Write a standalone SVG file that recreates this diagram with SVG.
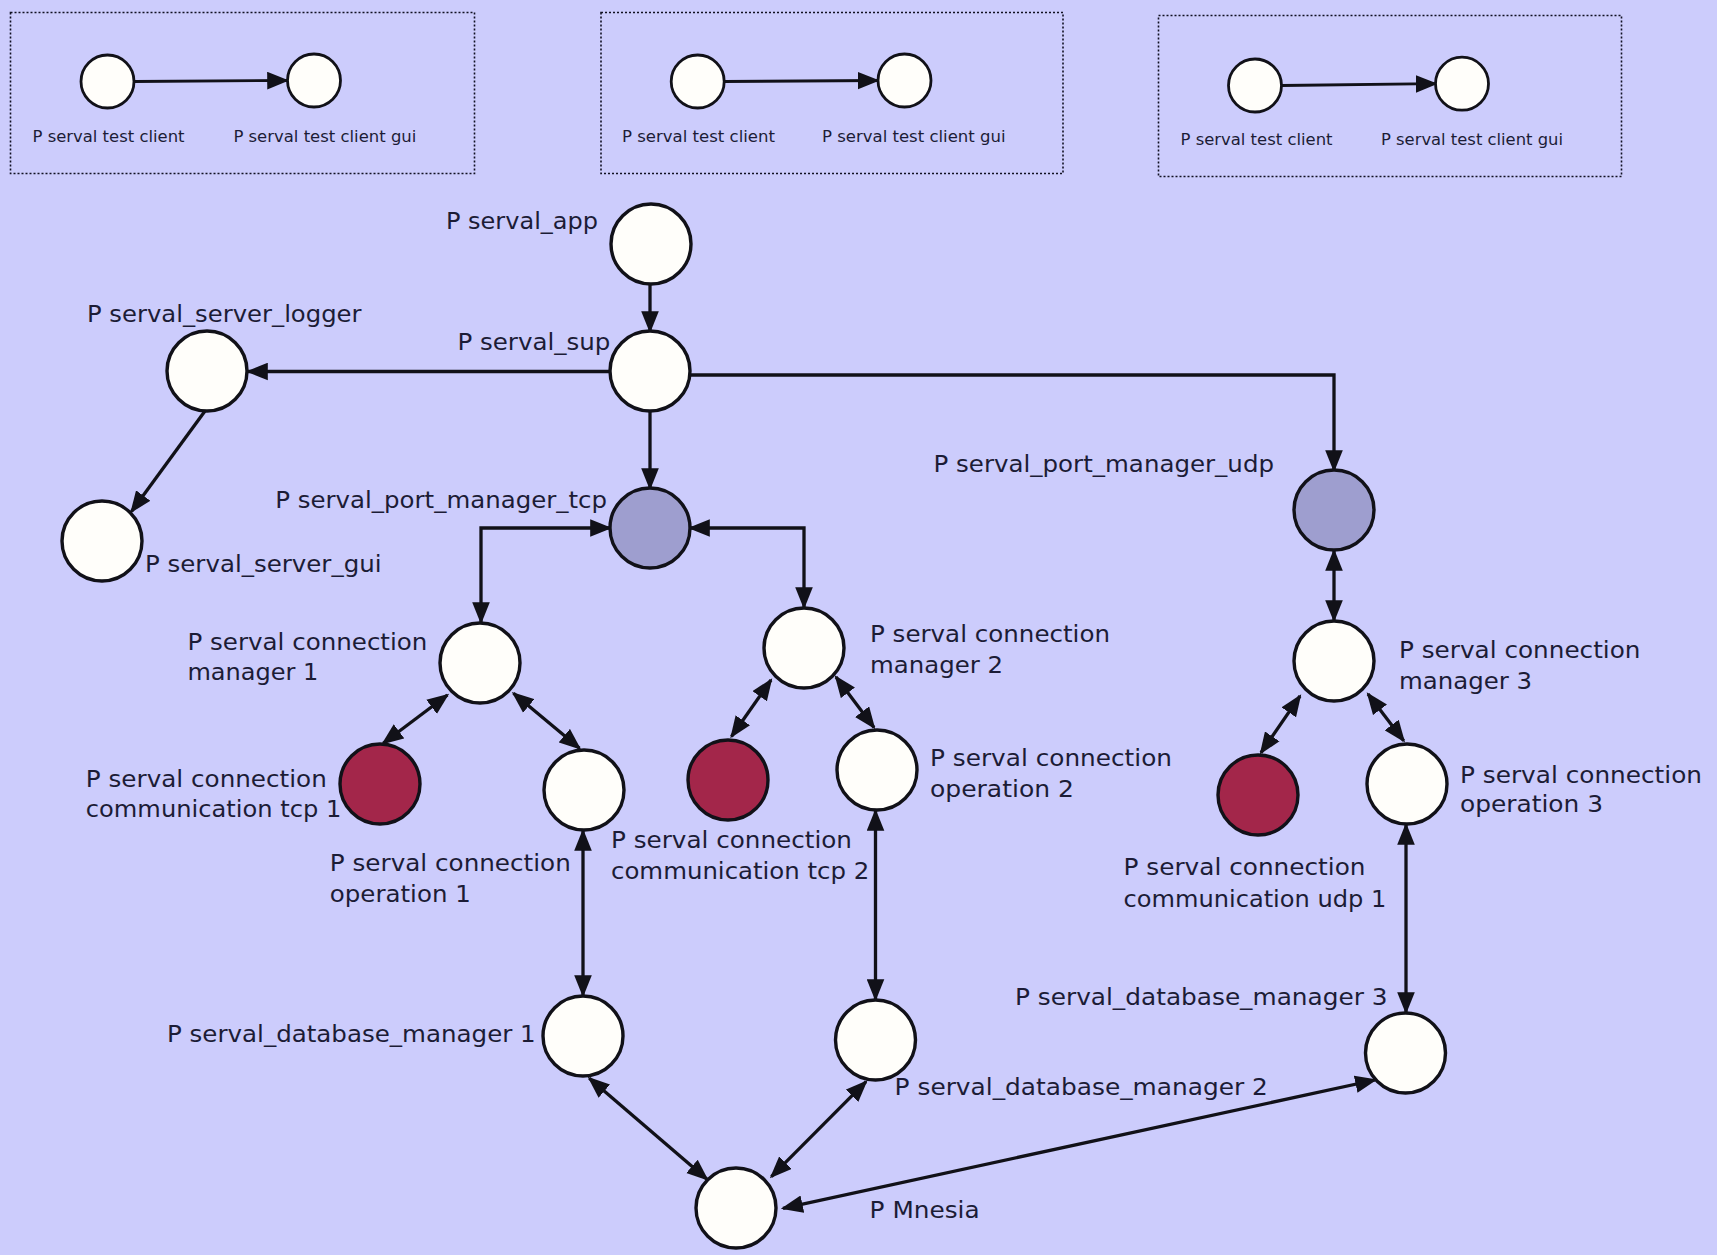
<svg xmlns="http://www.w3.org/2000/svg" width="1717" height="1255" viewBox="0 0 1717 1255">
<style>
.bg{fill:#ccccfc}
.box{fill:none;stroke:#111122;stroke-width:1.6;stroke-dasharray:2 2}
.n{fill:#fffefa;stroke:#111118;stroke-width:3.4}
.ns{fill:#fffefa;stroke:#111118;stroke-width:2.8}
.g{fill:#9e9ecf}
.r{fill:#a3264a}
.t{font-family:"DejaVu Sans","Liberation Sans",sans-serif;font-size:23.5px;fill:#1c1c36}
.s{font-family:"DejaVu Sans","Liberation Sans",sans-serif;font-size:16.5px;fill:#1c1c36}
.c{fill:none;stroke:#111118;stroke-width:3.3}
.cs{fill:none;stroke:#111118;stroke-width:2.8}
</style>
<defs>
<marker id="a" markerUnits="userSpaceOnUse" markerWidth="22" markerHeight="18" viewBox="0 0 20 16" refX="18" refY="8" orient="auto-start-reverse">
<path d="M0,0 L20,8 L0,16 z" fill="#111118"/>
</marker>
<marker id="as" markerUnits="userSpaceOnUse" markerWidth="22" markerHeight="18" viewBox="0 0 20 16" refX="18" refY="8" orient="auto-start-reverse">
<path d="M0,0 L20,8 L0,16 z" fill="#111118"/>
</marker>
</defs>
<rect class="bg" x="0" y="0" width="1717" height="1255"/>

<g id="box1">
<rect class="box" x="10.5" y="12.5" width="464" height="161"/>
</g>
<g id="box2">
<rect class="box" x="601" y="12.5" width="462" height="161"/>
</g>
<g id="box3">
<rect class="box" x="1158.5" y="15.5" width="463" height="161"/>
</g>

<g id="connectors">
<line class="cs" x1="134.5" y1="81.5" x2="287" y2="80.5" marker-end="url(#as)"/>
<line class="cs" x1="724.5" y1="81.5" x2="877.5" y2="80.5" marker-end="url(#as)"/>
<line class="cs" x1="1282" y1="85.5" x2="1435.5" y2="83.7" marker-end="url(#as)"/>

<line class="c" x1="650" y1="284" x2="650" y2="331" marker-end="url(#a)"/>
<line class="c" x1="610" y1="371.5" x2="248" y2="371.5" marker-end="url(#a)"/>
<line class="c" x1="650" y1="411" x2="650" y2="488" marker-end="url(#a)"/>
<line class="c" x1="205" y1="411" x2="131.5" y2="511.5" marker-end="url(#a)"/>
<path class="c" d="M690,375 H1334 V470" marker-end="url(#a)"/>
<path class="c" d="M610,528 H481 V622" marker-start="url(#a)" marker-end="url(#a)"/>
<path class="c" d="M690,528 H804 V607" marker-start="url(#a)" marker-end="url(#a)"/>
<line class="c" x1="1334" y1="551" x2="1334" y2="620" marker-start="url(#a)" marker-end="url(#a)"/>
<line class="c" x1="447.4" y1="695" x2="383.2" y2="743.3" marker-start="url(#a)" marker-end="url(#a)"/>
<line class="c" x1="513.5" y1="693.3" x2="579.5" y2="748.3" marker-start="url(#a)" marker-end="url(#a)"/>
<line class="c" x1="771" y1="680" x2="731.5" y2="736.5" marker-start="url(#a)" marker-end="url(#a)"/>
<line class="c" x1="836" y1="677" x2="874" y2="727.5" marker-start="url(#a)" marker-end="url(#a)"/>
<line class="c" x1="1300" y1="696" x2="1261" y2="752.7" marker-start="url(#a)" marker-end="url(#a)"/>
<line class="c" x1="1368" y1="694" x2="1403.7" y2="740.7" marker-start="url(#a)" marker-end="url(#a)"/>
<line class="c" x1="583" y1="831" x2="583" y2="995" marker-start="url(#a)" marker-end="url(#a)"/>
<line class="c" x1="875.5" y1="811" x2="875.5" y2="999" marker-start="url(#a)" marker-end="url(#a)"/>
<line class="c" x1="1406" y1="825" x2="1406" y2="1012" marker-start="url(#a)" marker-end="url(#a)"/>
<line class="c" x1="589.3" y1="1078.3" x2="707" y2="1179.3" marker-start="url(#a)" marker-end="url(#a)"/>
<line class="c" x1="866" y1="1081.7" x2="771.4" y2="1176.7" marker-start="url(#a)" marker-end="url(#a)"/>
<line class="c" x1="1375" y1="1080" x2="783" y2="1208.3" marker-start="url(#a)" marker-end="url(#a)"/>
</g>

<g id="b1-client"><circle class="ns" cx="107.5" cy="81.5" r="26.5"/><text class="s" x="32.5" y="141.7" textLength="152" lengthAdjust="spacingAndGlyphs">P serval test client</text></g>
<g id="b1-gui"><circle class="ns" cx="314" cy="80.5" r="26.5"/><text class="s" x="233.4" y="141.7" textLength="183" lengthAdjust="spacingAndGlyphs">P serval test client gui</text></g>
<g id="b2-client"><circle class="ns" cx="697.7" cy="81.5" r="26.5"/><text class="s" x="622" y="141.7" textLength="153" lengthAdjust="spacingAndGlyphs">P serval test client</text></g>
<g id="b2-gui"><circle class="ns" cx="904.5" cy="80.5" r="26.5"/><text class="s" x="822" y="141.7" textLength="183.6" lengthAdjust="spacingAndGlyphs">P serval test client gui</text></g>
<g id="b3-client"><circle class="ns" cx="1255" cy="85.5" r="26.5"/><text class="s" x="1180.5" y="145" textLength="152" lengthAdjust="spacingAndGlyphs">P serval test client</text></g>
<g id="b3-gui"><circle class="ns" cx="1462" cy="83.7" r="26.5"/><text class="s" x="1381" y="145" textLength="182" lengthAdjust="spacingAndGlyphs">P serval test client gui</text></g>

<g id="serval_app"><circle class="n" cx="651" cy="244" r="40"/><text class="t" x="446" y="228.5" textLength="152" lengthAdjust="spacingAndGlyphs">P serval_app</text></g>
<g id="serval_sup"><circle class="n" cx="650" cy="371" r="40"/><text class="t" x="457.4" y="350" textLength="153" lengthAdjust="spacingAndGlyphs">P serval_sup</text></g>
<g id="serval_server_logger"><circle class="n" cx="207" cy="371" r="40"/><text class="t" x="87" y="321.7" textLength="274.5" lengthAdjust="spacingAndGlyphs">P serval_server_logger</text></g>
<g id="serval_server_gui"><circle class="n" cx="102" cy="541" r="40"/><text class="t" x="145" y="572" textLength="236.5" lengthAdjust="spacingAndGlyphs">P serval_server_gui</text></g>
<g id="serval_port_manager_tcp"><circle class="n g" cx="650" cy="528" r="40"/><text class="t" x="275.3" y="508" textLength="331.7" lengthAdjust="spacingAndGlyphs">P serval_port_manager_tcp</text></g>
<g id="serval_port_manager_udp"><circle class="n g" cx="1334" cy="510" r="40"/><text class="t" x="933.5" y="472" textLength="340.5" lengthAdjust="spacingAndGlyphs">P serval_port_manager_udp</text></g>

<g id="conn_manager_1"><circle class="n" cx="480" cy="663" r="40"/><text class="t" x="187.4" y="650" textLength="240" lengthAdjust="spacingAndGlyphs">P serval connection</text><text class="t" x="187.4" y="680" textLength="131" lengthAdjust="spacingAndGlyphs">manager 1</text></g>
<g id="conn_manager_2"><circle class="n" cx="804" cy="648" r="40"/><text class="t" x="870" y="641.7" textLength="240" lengthAdjust="spacingAndGlyphs">P serval connection</text><text class="t" x="870" y="673" textLength="133" lengthAdjust="spacingAndGlyphs">manager 2</text></g>
<g id="conn_manager_3"><circle class="n" cx="1334" cy="661" r="40"/><text class="t" x="1399" y="658.3" textLength="241.5" lengthAdjust="spacingAndGlyphs">P serval connection</text><text class="t" x="1399" y="689" textLength="133" lengthAdjust="spacingAndGlyphs">manager 3</text></g>

<g id="conn_comm_tcp_1"><circle class="n r" cx="380" cy="784" r="40"/><text class="t" x="85.8" y="786.7" textLength="241" lengthAdjust="spacingAndGlyphs">P serval connection</text><text class="t" x="85.8" y="817.3" textLength="255.5" lengthAdjust="spacingAndGlyphs">communication tcp 1</text></g>
<g id="conn_operation_1"><circle class="n" cx="584" cy="790" r="40"/><text class="t" x="329.8" y="871" textLength="241" lengthAdjust="spacingAndGlyphs">P serval connection</text><text class="t" x="329.8" y="901.7" textLength="141" lengthAdjust="spacingAndGlyphs">operation 1</text></g>
<g id="conn_comm_tcp_2"><circle class="n r" cx="728" cy="780" r="40"/><text class="t" x="611" y="848.3" textLength="241" lengthAdjust="spacingAndGlyphs">P serval connection</text><text class="t" x="611" y="879" textLength="258.3" lengthAdjust="spacingAndGlyphs">communication tcp 2</text></g>
<g id="conn_operation_2"><circle class="n" cx="877" cy="770" r="40"/><text class="t" x="930" y="766" textLength="242" lengthAdjust="spacingAndGlyphs">P serval connection</text><text class="t" x="930" y="796.7" textLength="144" lengthAdjust="spacingAndGlyphs">operation 2</text></g>
<g id="conn_comm_udp_1"><circle class="n r" cx="1258" cy="795" r="40"/><text class="t" x="1123.5" y="875" textLength="242" lengthAdjust="spacingAndGlyphs">P serval connection</text><text class="t" x="1123.5" y="907" textLength="262.8" lengthAdjust="spacingAndGlyphs">communication udp 1</text></g>
<g id="conn_operation_3"><circle class="n" cx="1407" cy="784" r="40"/><text class="t" x="1460" y="782.7" textLength="242" lengthAdjust="spacingAndGlyphs">P serval connection</text><text class="t" x="1460" y="811.7" textLength="143" lengthAdjust="spacingAndGlyphs">operation 3</text></g>

<g id="database_manager_1"><circle class="n" cx="583" cy="1036" r="40"/><text class="t" x="167" y="1041.7" textLength="368.7" lengthAdjust="spacingAndGlyphs">P serval_database_manager 1</text></g>
<g id="database_manager_2"><circle class="n" cx="875.5" cy="1040" r="40"/><text class="t" x="894.6" y="1095" textLength="373.3" lengthAdjust="spacingAndGlyphs">P serval_database_manager 2</text></g>
<g id="database_manager_3"><circle class="n" cx="1405.5" cy="1053" r="40"/><text class="t" x="1015" y="1005" textLength="372.5" lengthAdjust="spacingAndGlyphs">P serval_database_manager 3</text></g>
<g id="mnesia"><circle class="n" cx="736" cy="1208" r="40"/><text class="t" x="869.6" y="1218.3" textLength="110" lengthAdjust="spacingAndGlyphs">P Mnesia</text></g>
</svg>
